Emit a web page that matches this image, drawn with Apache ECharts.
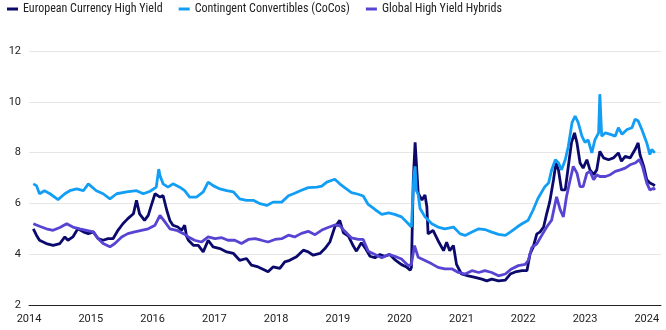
<!DOCTYPE html>
<html>
<head>
<meta charset="utf-8">
<script src="https://cdn.jsdelivr.net/npm/echarts@6/dist/echarts.min.js"></script>
<style>html,body{margin:0;padding:0;background:#fff}#c{width:666px;height:330px}</style>
</head>
<body>
<div id="c"></div>
<script>
const seriesNames = ['European Currency High Yield', 'Contingent Convertibles (CoCos)', 'Global High Yield Hybrids'];
const yTicks = [2, 4, 6, 8, 10, 12];
const yearTicks = [2014, 2015, 2016, 2017, 2018, 2019, 2020, 2021, 2022, 2023, 2024];

// [decimal year, yield %]
const euroHY = [
[2014.07,5.00],[2014.12,4.75],[2014.17,4.55],[2014.28,4.42],[2014.39,4.35],[2014.50,4.42],[2014.58,4.68],[2014.63,4.55],[2014.71,4.68],[2014.79,5.00],[2014.88,4.88],[2014.96,4.81],
[2015.04,4.88],[2015.12,4.61],[2015.20,4.55],[2015.28,4.61],[2015.36,4.61],[2015.44,4.94],[2015.52,5.20],[2015.60,5.40],[2015.69,5.59],[2015.74,6.12],[2015.79,5.59],[2015.87,5.33],[2015.93,5.53],[2015.98,5.92],
[2016.04,6.38],[2016.07,6.44],[2016.12,6.25],[2016.17,6.31],[2016.23,5.73],[2016.28,5.33],[2016.33,5.14],[2016.41,5.07],[2016.47,4.94],[2016.52,5.14],[2016.55,4.71],[2016.58,4.55],[2016.66,4.35],[2016.74,4.35],[2016.82,4.09],[2016.85,4.05],[2016.90,4.55],[2016.98,4.29],
[2017.09,4.22],[2017.20,4.09],[2017.31,4.03],[2017.41,3.76],[2017.52,3.83],[2017.60,3.57],[2017.71,3.50],[2017.82,3.37],[2017.87,3.31],[2017.95,3.50],
[2018.06,3.44],[2018.14,3.70],[2018.22,3.76],[2018.33,3.90],[2018.44,4.16],[2018.52,4.09],[2018.60,3.96],[2018.71,4.03],[2018.79,4.22],[2018.87,4.48],[2018.95,5.07],
[2019.03,5.33],[2019.09,4.84],[2019.17,4.71],[2019.25,4.32],[2019.30,4.12],[2019.38,4.45],[2019.44,4.25],[2019.52,3.92],[2019.60,3.86],[2019.68,3.99],[2019.76,3.92],[2019.84,3.99],[2019.92,3.79],
[2020.03,3.59],[2020.11,3.50],[2020.17,3.37],[2020.19,3.48],[2020.22,6.90],[2020.25,8.40],[2020.27,7.60],[2020.30,6.40],[2020.36,6.13],[2020.41,6.33],[2020.44,5.87],[2020.46,4.80],[2020.54,4.94],[2020.62,4.54],[2020.71,4.14],[2020.76,4.47],[2020.81,4.14],[2020.87,4.34],[2020.92,3.60],
[2021.00,3.22],[2021.11,3.15],[2021.22,3.09],[2021.33,3.02],[2021.41,2.95],[2021.49,3.02],[2021.60,2.95],[2021.71,2.98],[2021.79,3.22],[2021.87,3.30],[2021.98,3.35],
[2022.06,3.35],[2022.11,4.01],[2022.16,4.27],[2022.22,4.80],[2022.27,4.87],[2022.33,5.07],[2022.38,5.60],[2022.43,6.07],[2022.49,6.93],[2022.53,7.59],[2022.57,7.32],[2022.62,6.53],[2022.68,6.53],[2022.73,7.46],[2022.78,8.38],[2022.83,8.78],[2022.87,8.38],[2022.92,7.59],[2022.97,7.39],
[2023.03,7.72],[2023.08,7.32],[2023.14,7.13],[2023.19,7.32],[2023.24,8.05],[2023.30,7.79],[2023.38,7.72],[2023.46,7.79],[2023.54,7.99],[2023.59,7.66],[2023.65,7.85],[2023.73,7.79],[2023.81,8.12],[2023.86,8.38],[2023.89,7.92],[2023.95,7.46],
[2024.00,6.93],[2024.05,6.80],[2024.11,6.73],[2024.13,6.69]
];

const cocos = [
[2014.07,6.77],[2014.12,6.70],[2014.17,6.38],[2014.25,6.50],[2014.34,6.38],[2014.47,6.15],[2014.58,6.38],[2014.66,6.50],[2014.77,6.57],[2014.88,6.50],[2014.96,6.77],
[2015.09,6.50],[2015.20,6.38],[2015.31,6.18],[2015.42,6.38],[2015.58,6.45],[2015.74,6.50],[2015.85,6.38],[2015.96,6.48],
[2016.06,6.64],[2016.10,7.35],[2016.12,7.10],[2016.17,6.77],[2016.25,6.64],[2016.33,6.77],[2016.44,6.64],[2016.52,6.50],[2016.60,6.25],[2016.71,6.25],[2016.82,6.45],[2016.90,6.84],[2016.98,6.70],
[2017.09,6.57],[2017.20,6.50],[2017.31,6.45],[2017.41,6.18],[2017.52,6.12],[2017.63,6.12],[2017.74,5.99],[2017.85,5.92],[2017.95,6.05],
[2018.09,6.05],[2018.20,6.30],[2018.30,6.40],[2018.41,6.52],[2018.52,6.62],[2018.66,6.64],[2018.74,6.68],[2018.82,6.84],[2018.95,6.95],
[2019.03,6.77],[2019.11,6.62],[2019.22,6.42],[2019.33,6.36],[2019.41,6.29],[2019.49,5.96],[2019.60,5.76],[2019.71,5.57],[2019.82,5.63],[2019.92,5.57],
[2020.03,5.47],[2020.14,5.20],[2020.19,5.07],[2020.23,7.10],[2020.25,7.46],[2020.27,6.50],[2020.30,6.35],[2020.33,5.80],[2020.41,5.47],[2020.52,5.20],[2020.62,5.07],[2020.73,5.00],[2020.87,5.07],[2020.98,4.80],
[2021.06,4.74],[2021.17,4.87],[2021.28,5.00],[2021.38,4.97],[2021.49,4.87],[2021.60,4.78],[2021.71,4.74],[2021.79,4.87],[2021.90,5.07],[2021.98,5.20],
[2022.08,5.34],[2022.16,5.74],[2022.24,6.20],[2022.35,6.66],[2022.41,6.80],[2022.46,7.32],[2022.52,7.72],[2022.57,7.60],[2022.62,7.32],[2022.68,7.72],[2022.73,8.25],[2022.79,9.18],[2022.84,9.44],[2022.89,9.18],[2022.95,8.65],
[2023.00,8.40],[2023.05,8.50],[2023.11,7.99],[2023.16,8.50],[2023.22,8.78],[2023.24,10.30],[2023.27,8.65],[2023.33,8.78],[2023.41,8.72],[2023.49,8.65],[2023.54,8.98],[2023.60,8.72],[2023.68,8.91],[2023.76,8.98],[2023.81,9.31],[2023.86,9.25],[2023.92,8.91],
[2024.00,8.38],[2024.05,7.92],[2024.08,8.12],[2024.13,7.99]
];

const hybrids = [
[2014.07,5.20],[2014.17,5.10],[2014.28,5.00],[2014.39,4.94],[2014.50,5.05],[2014.61,5.20],[2014.71,5.07],[2014.82,5.00],[2014.93,4.94],
[2015.04,4.88],[2015.12,4.61],[2015.20,4.42],[2015.31,4.29],[2015.39,4.42],[2015.50,4.68],[2015.60,4.81],[2015.71,4.88],[2015.82,4.94],[2015.93,5.00],
[2016.04,5.14],[2016.12,5.53],[2016.20,5.27],[2016.28,5.00],[2016.39,4.94],[2016.50,4.81],[2016.58,4.68],[2016.68,4.55],[2016.79,4.48],[2016.90,4.68],
[2017.01,4.61],[2017.12,4.65],[2017.22,4.55],[2017.33,4.55],[2017.44,4.42],[2017.55,4.58],[2017.66,4.61],[2017.76,4.55],[2017.87,4.48],[2017.98,4.58],
[2018.09,4.61],[2018.20,4.75],[2018.30,4.68],[2018.41,4.82],[2018.52,4.90],[2018.63,4.77],[2018.74,4.95],[2018.84,5.05],[2018.95,5.15],
[2019.03,5.12],[2019.11,4.91],[2019.22,4.64],[2019.33,4.58],[2019.41,4.58],[2019.49,4.12],[2019.60,3.99],[2019.71,3.86],[2019.82,3.99],[2019.92,3.92],
[2020.03,3.81],[2020.14,3.55],[2020.19,3.60],[2020.24,4.34],[2020.30,3.88],[2020.41,3.75],[2020.52,3.62],[2020.62,3.48],[2020.73,3.42],[2020.85,3.42],[2020.95,3.28],
[2021.06,3.22],[2021.17,3.35],[2021.28,3.28],[2021.38,3.35],[2021.49,3.28],[2021.60,3.15],[2021.71,3.22],[2021.81,3.42],[2021.92,3.55],
[2022.03,3.60],[2022.08,3.75],[2022.14,4.27],[2022.22,4.41],[2022.30,4.74],[2022.38,5.07],[2022.46,5.34],[2022.54,6.26],[2022.60,5.74],[2022.65,5.47],[2022.70,6.26],[2022.76,6.93],[2022.81,7.46],[2022.87,7.19],[2022.92,6.66],[2022.97,6.66],
[2023.03,7.19],[2023.08,7.26],[2023.14,6.93],[2023.19,7.13],[2023.24,7.06],[2023.33,7.06],[2023.41,7.13],[2023.49,7.26],[2023.57,7.32],[2023.65,7.39],[2023.73,7.52],[2023.81,7.59],[2023.88,7.72],[2023.93,7.46],
[2024.00,6.80],[2024.05,6.53],[2024.11,6.60],[2024.13,6.53]
];

const colors = ['#0b0a6c', '#129ef5', '#5744d2'];
const LEGEND_FONT = "'Roboto Condensed', Roboto, sans-serif";
const AXIS_FONT = "Roboto, sans-serif";

const chart = echarts.init(document.getElementById('c'), null, {renderer: 'canvas'});
chart.setOption({
  animation: false,
  color: colors,
  legend: {
    data: seriesNames,
    left: 7, top: 3, padding: 0,
    itemWidth: 11, itemHeight: 3, itemGap: 16,
    icon: 'rect',
    textStyle: {fontFamily: LEGEND_FONT, fontSize: 12, color: '#222'}
  },
  grid: {left: 29, right: 5, top: 51, bottom: 25, containLabel: false},
  xAxis: {
    type: 'value',
    min: yearTicks[0], max: 2024.23, interval: 1,
    axisLine: {show: true, lineStyle: {color: '#222', width: 1}},
    axisTick: {show: false},
    splitLine: {show: false},
    axisLabel: {
      showMaxLabel: false,
      margin: 9,
      fontFamily: AXIS_FONT, fontSize: 11, color: '#222',
      formatter: v => (yearTicks.indexOf(v) >= 0 ? String(v) : '')
    }
  },
  yAxis: {
    type: 'value',
    min: yTicks[0], max: yTicks[yTicks.length - 1], interval: 2,
    axisLine: {show: false},
    axisTick: {show: false},
    splitLine: {lineStyle: {color: '#e6e6e6', width: 1}},
    axisLabel: {margin: 8, fontFamily: AXIS_FONT, fontSize: 11, color: '#222'}
  },
  series: [
    {name: seriesNames[0], type: 'line', data: euroHY, showSymbol: false, lineStyle: {width: 2.8, color: colors[0]}},
    {name: seriesNames[1], type: 'line', data: cocos, showSymbol: false, lineStyle: {width: 2.8, color: colors[1]}},
    {name: seriesNames[2], type: 'line', data: hybrids, showSymbol: false, lineStyle: {width: 2.8, color: colors[2]}}
  ]
});
</script>
</body>
</html>
